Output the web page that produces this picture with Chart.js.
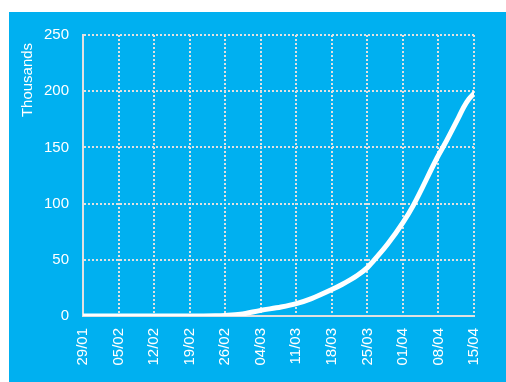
<!DOCTYPE html>
<html lang="en">
<head>
    <meta charset="UTF-8">
    <title>Thousands</title>
    <script src="https://cdn.jsdelivr.net/npm/chart.js@4.4.0/dist/chart.umd.min.js"></script>
    <style>
        body {
            margin: 0;
            padding: 0;
            background: #ffffff;
        }
        #wrap {
            position: absolute;
            left: 9px;
            top: 12px;
            width: 497px;
            height: 370px;
            background: #00b0f0;
        }
    </style>
</head>
<body>
    <div id="wrap">
        <canvas id="chart" width="497" height="370"></canvas>
    </div>
    <script>
        // weekly tick labels (x axis)
        const tickLabels = ['29/01', '05/02', '12/02', '19/02', '26/02', '04/03', '11/03', '18/03', '25/03', '01/04', '08/04', '15/04'];
        // days since 29/01 and cumulative value in thousands
        const dayOffsets = [0, 7, 14, 21, 26, 28, 31, 35, 39, 42, 45, 49, 51, 54, 56, 57, 60, 63, 65, 70, 71, 74, 75, 76, 77];
        const thousands = [0, 0, 0, 0, 0.2, 0.5, 1.5, 5, 8, 11, 15.5, 23.5, 28, 36, 43, 48, 64, 83, 98, 143, 151, 177, 186, 193, 198];
        const yTicks = [0, 50, 100, 150, 200, 250];
        const yTitle = 'Thousands';

        const gridColor = 'rgba(225, 225, 225, 1)';
        const font = { family: 'Liberation Sans, Arial, sans-serif', size: 15 };

        const points = dayOffsets.map((d, i) => ({ x: d, y: thousands[i] }));

        // axis title sits a bit below the top of the plot, so draw it by hand
        const titlePlugin = {
            id: 'yTitle',
            afterDraw: chart => {
                const c = chart.ctx;
                c.save();
                c.translate(23, 68);
                c.rotate(-Math.PI / 2);
                c.fillStyle = '#ffffff';
                c.font = '15px Liberation Sans, Arial, sans-serif';
                c.textAlign = 'center';
                c.textBaseline = 'alphabetic';
                c.fillText(yTitle, 0, 0);
                c.restore();
            }
        };

        const ctx = document.getElementById('chart').getContext('2d');
        new Chart(ctx, {
            type: 'line',
            data: {
                datasets: [{
                    data: points,
                    borderColor: '#ffffff',
                    borderWidth: 5,
                    borderCapStyle: 'round',
                    borderJoinStyle: 'round',
                    pointRadius: 0,
                    cubicInterpolationMode: 'monotone',
                    fill: false
                }]
            },
            options: {
                responsive: false,
                animation: false,
                devicePixelRatio: 1,
                layout: { padding: { top: 21, right: 32, bottom: 0, left: 0 } },
                plugins: {
                    legend: { display: false },
                    tooltip: { enabled: false }
                },
                scales: {
                    x: {
                        type: 'linear',
                        min: 0,
                        max: 77,
                        afterFit: scale => { scale.height = 66; },
                        afterBuildTicks: scale => {
                            scale.ticks = tickLabels.map((t, i) => ({ value: i * 7 }));
                        },
                        ticks: {
                            color: '#ffffff',
                            font: font,
                            padding: 12,
                            minRotation: 90,
                            maxRotation: 90,
                            autoSkip: false,
                            callback: v => tickLabels[Math.round(v / 7)]
                        },
                        grid: {
                            color: gridColor,
                            lineWidth: 2,
                            drawTicks: false
                        },
                        border: { display: true, color: gridColor, width: 2, dash: [2, 2] }
                    },
                    y: {
                        min: 0,
                        max: 250,
                        afterFit: scale => { scale.width = 74; },
                        afterBuildTicks: scale => {
                            scale.ticks = yTicks.map(v => ({ value: v }));
                        },
                        ticks: {
                            color: '#ffffff',
                            font: font,
                            padding: 14
                        },
                        grid: {
                            color: gridColor,
                            lineWidth: 2,
                            drawTicks: false
                        },
                        border: { display: true, color: gridColor, width: 2, dash: [2, 2] }
                    }
                }
            },
            plugins: [titlePlugin]
        });
    </script>
</body>
</html>
